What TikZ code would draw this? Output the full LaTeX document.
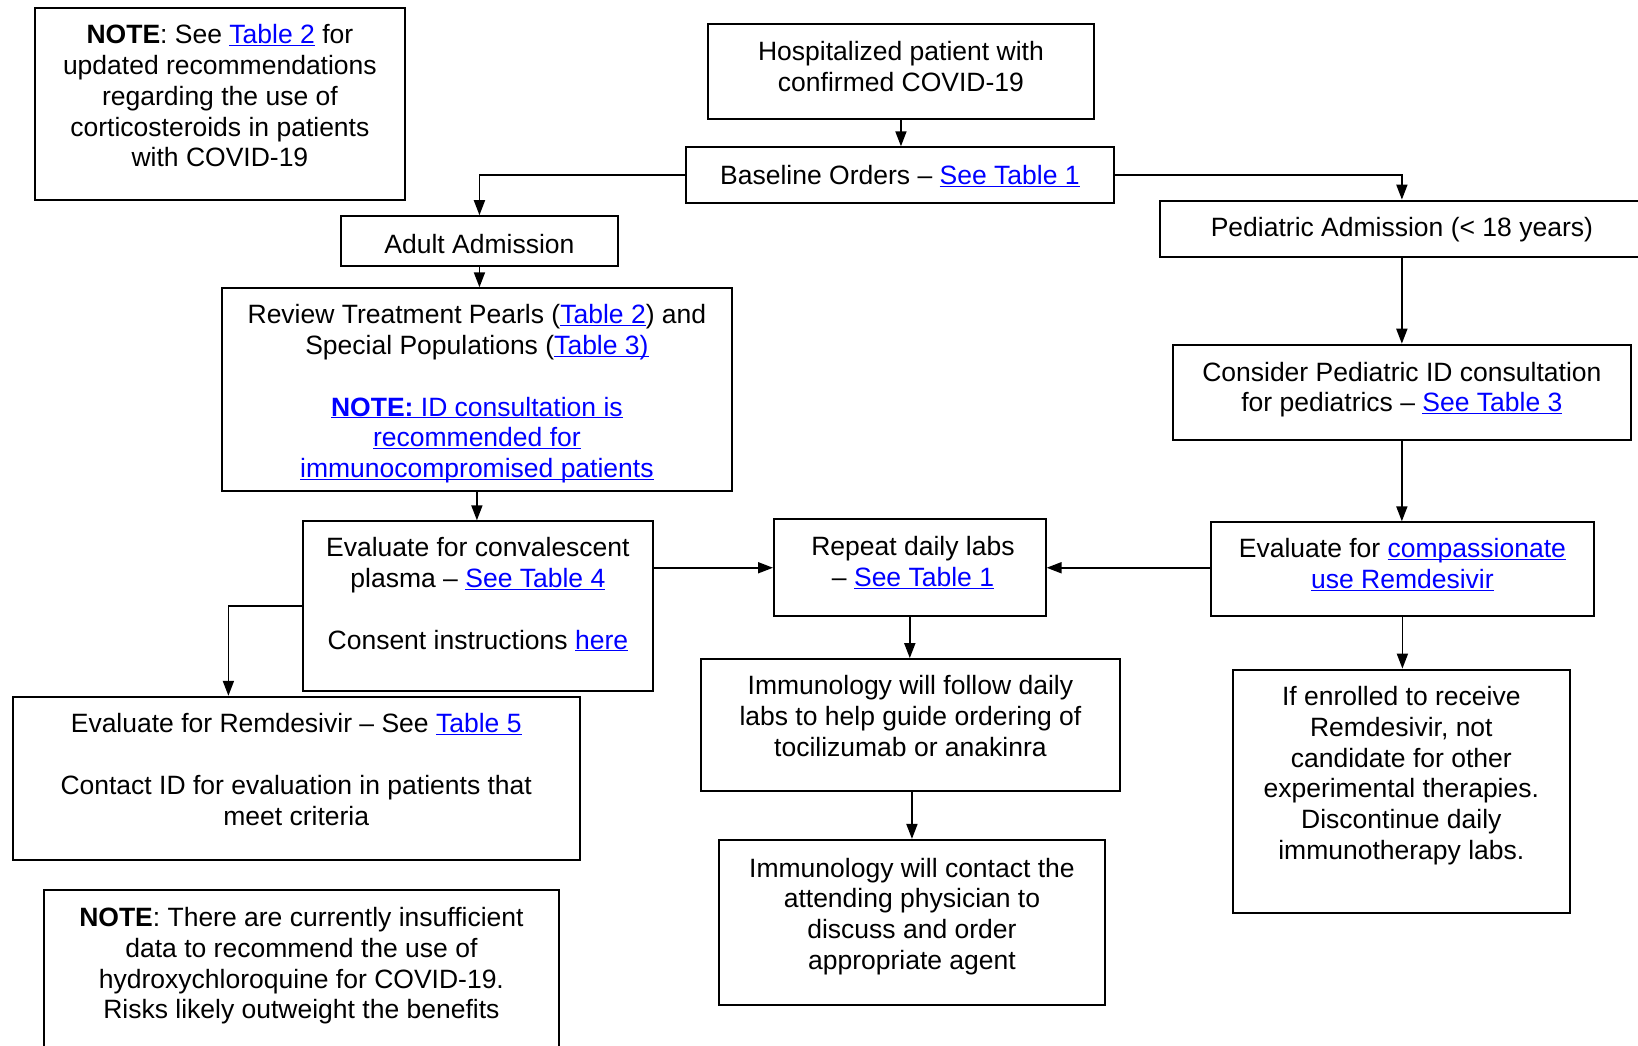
\documentclass[tikz,border=0pt]{standalone}
\usepackage{fontspec}
\setmainfont{Liberation Sans}
\usetikzlibrary{arrows.meta,fit,calc}
\definecolor{linkblue}{RGB}{0,0,255}
\newcommand\lnk[1]{{\color{linkblue}\setbox0\hbox{#1}\dp0=0pt\underline{\box0}}}
\begin{document}
\begin{tikzpicture}[x=1pt,y=-1pt,
  box/.style={draw=black,line width=2pt,inner sep=0pt,rectangle},
  txt/.style={anchor=north,inner sep=0pt,align=center,font=\fontsize{26.5}{30.8}\selectfont,execute at begin node=\strut},
  arr/.style={line width=1.8pt,-{Triangle[width=11pt,length=15pt]}}]
\useasboundingbox (0,0) rectangle (1638,1045);
\clip (0,0) rectangle (1638,1045);

% boxes
\node[box,fit={(34.5,8.4) (405.3,199.5)}] (notetop) {};
\node[box,fit={(708.2,24.0) (1093.7,119.1)}] (hosp) {};
\node[box,fit={(686.3,147.3) (1113.5,202.7)}] (base) {};
\node[box,fit={(340.5,216.2) (618.4,266.4)}] (adult) {};
\node[box,fit={(1159.5,200.6) (1660,257.0)}] (ped) {};
\node[box,fit={(221.5,288.3) (732.3,491.0)}] (review) {};
\node[box,fit={(1173.1,344.7) (1630.6,439.8)}] (cons) {};
\node[box,fit={(302.9,521.3) (652.9,690.5)}] (conv) {};
\node[box,fit={(774.0,519.2) (1045.6,616.3)}] (repeat) {};
\node[box,fit={(1210.7,522.3) (1594.1,616.3)}] (comp) {};
\node[box,fit={(12.5,696.8) (579.8,859.7)}] (remd) {};
\node[box,fit={(700.9,659.1) (1119.8,790.8)}] (immf) {};
\node[box,fit={(1232.6,669.6) (1570.0,913.0)}] (enroll) {};
\node[box,fit={(718.7,839.9) (1105.2,1004.9)}] (immc) {};
\node[box,fit={(43.9,890.0) (558.9,1070)}] (notebot) {};

% texts
\node[txt] (notetop-t) at (219.9,24.3) {\textbf{NOTE}: See \lnk{Table 2} for\\ updated recommendations\\ regarding the use of\\ corticosteroids in patients\\ with COVID-19};
\node[txt] (hosp-t) at (900.95,41.0) {Hospitalized patient with\\ confirmed COVID-19};
\node[txt] (base-t) at (899.9,162.8) {Baseline Orders – \lnk{See Table 1}};
\node[txt] (adult-t) at (479.45,231.6) {Adult Admission};
\node[txt] (ped-t) at (1401.9,215.0) {Pediatric Admission (< 18 years)};
\node[txt] (review-t) at (476.9,304.2) {Review Treatment Pearls (\lnk{Table 2}) and\\ Special Populations (\lnk{Table 3)}\\[30.8pt] \lnk{\textbf{NOTE:} ID consultation is}\\ \lnk{recommended for}\\ \lnk{immunocompromised patients}};
\node[txt] (cons-t) at (1401.85,361.7) {Consider Pediatric ID consultation\\ for pediatrics – \lnk{See Table 3}};
\node[txt] (conv-t) at (477.9,537.2) {Evaluate for convalescent\\ plasma – \lnk{See Table 4}\\[30.8pt] Consent instructions \lnk{here}};
\node[txt] (repeat-t) at (913,536.1) {Repeat daily labs\\ – \lnk{See Table 1}};
\node[txt] (comp-t) at (1402.4,538.2) {Evaluate for \lnk{compassionate}\\ \lnk{use Remdesivir}};
\node[txt] (remd-t) at (296.2,713.2) {Evaluate for Remdesivir – See \lnk{Table 5}\\[30.8pt] Contact ID for evaluation in patients that\\ meet criteria};
\node[txt] (immf-t) at (910.4,675.1) {Immunology will follow daily\\ labs to help guide ordering of\\ tocilizumab or anakinra};
\node[txt] (enroll-t) at (1401.3,686.1) {If enrolled to receive\\ Remdesivir, not\\ candidate for other\\ experimental therapies.\\ Discontinue daily\\ immunotherapy labs.};
\node[txt] (immc-t) at (911.95,857.6) {Immunology will contact the\\ attending physician to\\ discuss and order\\ appropriate agent};
\node[txt] (notebot-t) at (301.4,907.0) {\textbf{NOTE}: There are currently insufficient\\ data to recommend the use of\\ hydroxychloroquine for COVID-19.\\ Risks likely outweight the benefits};

% connectors
\draw[arr] (hosp.south) -- (hosp.south |- base.north);
\draw[arr] (base.west) -| (adult.north);
\draw[arr] (base.east) -| (ped-t.north |- ped.north);
\draw[arr] (adult.south) -- (adult.south |- review.north);
\draw[arr] (review.south) -- (review.south |- conv.north);
\coordinate (remdin) at ($(remd.north west)!0.381!(remd.north east)$);
\draw[arr] (conv.west) -| (remdin);
\draw[arr] (repeat.west -| conv.east) -- (repeat.west);
\draw[arr] (comp.west |- repeat.east) -- (repeat.east);
\draw[arr] (repeat.south) -- (repeat.south |- immf.north);
\draw[arr] (immc.north |- immf.south) -- (immc.north);
\draw[arr] (cons.north |- ped.south) -- (cons.north);
\draw[arr] (cons.south) -- (cons.south |- comp.north);
\draw[arr] (comp.south) -- (comp.south |- enroll.north);
\end{tikzpicture}
\end{document}
